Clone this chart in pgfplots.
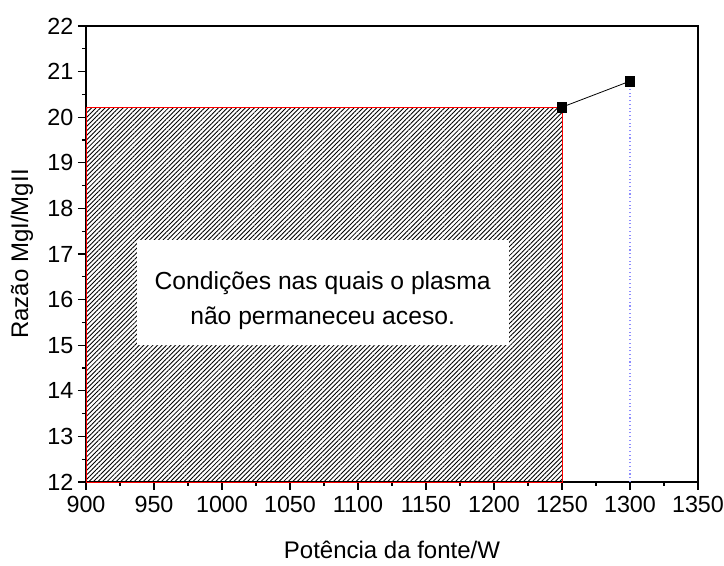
\documentclass[border=0pt]{standalone}
\usepackage{fontspec}
\setmainfont{Liberation Sans}
\usepackage{pgfplots}
\pgfplotsset{compat=1.18}
\usetikzlibrary{patterns.meta}
\definecolor{dotblue}{RGB}{140,140,255}
\begin{document}
\begin{tikzpicture}
\begin{axis}[
  scale only axis,
  width=459pt, height=342pt,
  xmin=900, xmax=1350, ymin=12, ymax=22,
  xtick={900,950,...,1350}, ytick={12,13,...,22},
  minor tick num=1,
  tick align=outside, tick pos=left,
  major tick length=6pt, minor tick length=3pt,
  axis line style={line width=1.1pt},
  every tick/.style={line width=0.9pt, black},
  /pgf/number format/assume math mode=true,
  /pgf/number format/1000 sep={},
  tick label style={font=\fontsize{17.5}{19}\selectfont},
  label style={font=\fontsize{18}{20}\selectfont},
  xlabel={Potência da fonte/W},
  ylabel={Razão MgI/MgII},
  xlabel style={at={(axis description cs:0.5,0)},anchor=center,yshift=-51pt},
  ylabel style={at={(axis description cs:0,0.5)},anchor=center,yshift=48pt},
  xticklabel style={yshift=-1pt},
  clip=false,
]
\addplot[draw=red, line width=0.7pt, pattern={Lines[angle=45,distance=2.4pt,line width=0.65pt]}, pattern color=black]
  coordinates {(900,12) (900,20.22) (1250,20.22) (1250,12)} -- cycle;
\addplot[dotblue, dotted, line width=0.8pt] coordinates {(1300,12) (1300,20.79)};
\addplot[black, line width=0.6pt, mark=square*, mark size=3.6pt] coordinates {(1250,20.22) (1300,20.79)};
\fill[white] (axis cs:937.5,15.0) rectangle (axis cs:1211,17.31);
\node[align=center, font=\fontsize{18.5}{26}\selectfont] at (axis cs:1074,15.98)
  {Condições nas quais o plasma\\não permaneceu aceso.};
\end{axis}
\pgfresetboundingbox
\path (current axis.south west) ++(-64.5pt,-63pt) rectangle ++(543pt,424.5pt);
\end{tikzpicture}
\end{document}
